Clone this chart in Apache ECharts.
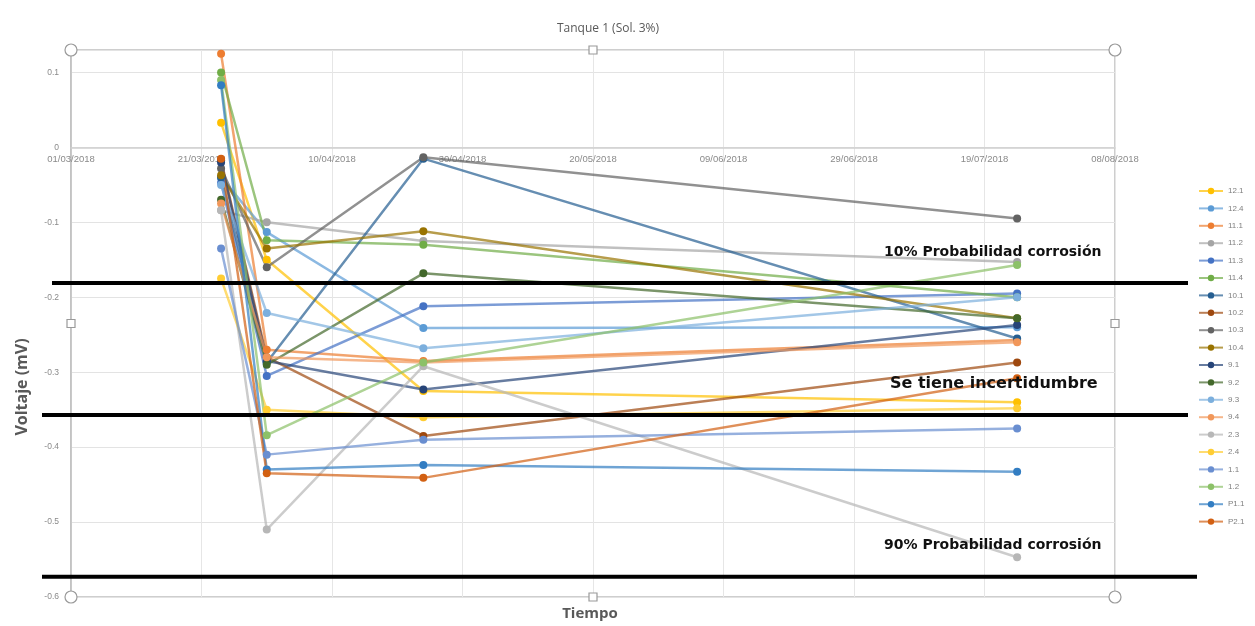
<!DOCTYPE html>
<html>
<head>
<meta charset="utf-8">
<script src="https://cdn.jsdelivr.net/npm/echarts@6/dist/echarts.min.js"></script>
<style>
  html, body { margin: 0; padding: 0; background: #ffffff; }
  #chart { width: 1255px; height: 626px; }
</style>
</head>
<body>
<div id="chart"></div>
<script>
// Measurement dates and axis range
const sampleDates = ['2018-03-24', '2018-03-31', '2018-04-24', '2018-07-24'];
const axisStartDate = '2018-03-01';
const axisEndDate = '2018-08-08';
const dayStep = 20;

// Potential readings (mV) per specimen, one value per measurement date
const s12_1 = [0.033, -0.150, -0.325, -0.340];
const s12_4 = [-0.040, -0.113, -0.241, -0.240];
const s11_1 = [0.125, -0.270, -0.285, -0.257];
const s11_2 = [-0.084, -0.100, -0.125, -0.153];
const s11_3 = [-0.047, -0.305, -0.212, -0.195];
const s11_4 = [0.100, -0.124, -0.130, -0.200];
const s10_1 = [-0.040, -0.287, -0.015, -0.255];
const s10_2 = [-0.017, -0.280, -0.385, -0.287];
const s10_3 = [-0.028, -0.160, -0.013, -0.095];
const s10_4 = [-0.037, -0.135, -0.112, -0.228];
const s9_1 = [-0.020, -0.285, -0.323, -0.237];
const s9_2 = [-0.070, -0.290, -0.168, -0.228];
const s9_3 = [-0.050, -0.221, -0.268, -0.200];
const s9_4 = [-0.075, -0.280, -0.287, -0.260];
const s2_3 = [-0.084, -0.510, -0.292, -0.547];
const s2_4 = [-0.175, -0.350, -0.360, -0.348];
const s1_1 = [-0.135, -0.410, -0.390, -0.375];
const s1_2 = [0.090, -0.384, -0.287, -0.157];
const sP1_1 = [0.083, -0.430, -0.424, -0.433];
const sP2_1 = [-0.015, -0.435, -0.441, -0.308];

const seriesNames = ['12.1', '12.4', '11.1', '11.2', '11.3', '11.4', '10.1', '10.2', '10.3', '10.4',
                     '9.1', '9.2', '9.3', '9.4', '2.3', '2.4', '1.1', '1.2', 'P1.1', 'P2.1'];
const seriesValues = [s12_1, s12_4, s11_1, s11_2, s11_3, s11_4, s10_1, s10_2, s10_3, s10_4,
                      s9_1, s9_2, s9_3, s9_4, s2_3, s2_4, s1_1, s1_2, sP1_1, sP2_1];
const seriesColors = ['#FFC000', '#5B9BD5', '#ED7D31', '#A5A5A5', '#4472C4', '#70AD47', '#255E91', '#9E480E',
                      '#636363', '#997300', '#264478', '#43682B', '#7CAFDD', '#F1975A', '#B7B7B7', '#FFCD33',
                      '#698ED0', '#8CC168', '#327DC2', '#D26012'];

// Corrosion probability thresholds (mV)
const thresholdValues = [-0.181, -0.357, -0.573];
const thresholdLabels = ['10% Probabilidad corrosión', 'Se tiene incertidumbre', '90% Probabilidad corrosión'];

const DAY = 86400000;
const t0 = Date.parse(axisStartDate + 'T00:00:00Z');
function dayOffset(d) { return Math.round((Date.parse(d + 'T00:00:00Z') - t0) / DAY); }
function pad(n) { return (n < 10 ? '0' : '') + n; }
function dayLabel(v) {
  const d = new Date(t0 + v * DAY);
  return pad(d.getUTCDate()) + '/' + pad(d.getUTCMonth() + 1) + '/' + d.getUTCFullYear();
}

const chart = echarts.init(document.getElementById('chart'), null, { renderer: 'canvas' });

const series = seriesNames.map((name, i) => ({
  name: name,
  type: 'line',
  symbol: 'circle',
  symbolSize: 8,
  data: sampleDates.map((d, k) => [dayOffset(d), seriesValues[i][k]]),
  lineStyle: { width: 2.5, color: seriesColors[i], opacity: 0.7 },
  itemStyle: { color: seriesColors[i] },
  emphasis: { disabled: true }
}));

const gridRect = { left: 71, right: 140, top: 50, bottom: 29 };

chart.setOption({
  animation: false,
  backgroundColor: '#ffffff',
  textStyle: { fontFamily: 'Liberation Sans, sans-serif' },
  title: {
    text: 'Tanque 1 (Sol. 3%)',
    left: 603, top: 18, textAlign: 'center',
    textStyle: { fontSize: 12, fontWeight: 'normal', color: '#595959', fontFamily: 'Open Sans, sans-serif' }
  },
  legend: {
    orient: 'vertical',
    left: 1193, top: 181,
    itemWidth: 24, itemHeight: 8, itemGap: 7.4,
    textStyle: { fontSize: 8, color: '#7f7f7f', lineHeight: 10 },
    data: seriesNames
  },
  grid: {
    left: gridRect.left, right: gridRect.right, top: gridRect.top, bottom: gridRect.bottom,
    show: true, borderColor: '#BFBFBF', borderWidth: 1.5
  },
  xAxis: {
    type: 'value',
    position: 'bottom',
    min: 0,
    max: dayOffset(axisEndDate),
    interval: dayStep,
    axisLine: { onZero: false, lineStyle: { color: '#D0D0D0', width: 1.5 } },
    axisTick: { show: false },
    axisLabel: { formatter: dayLabel, fontSize: 9.5, color: '#8a8a8a', margin: 7 },
    splitLine: { show: true, lineStyle: { color: '#E6E6E6' } }
  },
  yAxis: {
    type: 'value',
    min: -0.6,
    max: 0.13,
    interval: 0.1,
    axisLine: { show: true, onZero: false, lineStyle: { color: '#BFBFBF', width: 1.5 } },
    axisTick: { show: false },
    axisLabel: {
      showMaxLabel: false,
      fontSize: 8.5, color: '#8a8a8a', margin: 12,
      formatter: v => String(Math.round(v * 10) / 10)
    },
    splitLine: { show: true, lineStyle: { color: '#E3E3E3' } }
  },
  series: series
});

// Move the date axis (line and labels) up to the zero level of the voltage axis
const yZero = chart.convertToPixel({ yAxisIndex: 0 }, 0);
const yBottom = 626 - gridRect.bottom;
chart.setOption({ xAxis: { offset: -(yBottom - yZero) } });

// Threshold bars, their captions, axis titles and the plot-area frame handles
const graphics = [];
thresholdValues.forEach((v, i) => {
  const y = chart.convertToPixel({ gridIndex: 0 }, [0, v])[1];
  const x1 = i === 0 ? 52 : 42;
  const x2 = i === 2 ? 1197 : 1188;
  graphics.push({
    type: 'line', z: 100,
    shape: { x1: x1, y1: y, x2: x2, y2: y },
    style: { stroke: '#000000', lineWidth: 4 }
  });
  graphics.push({
    type: 'text', z: 100,
    x: i === 1 ? 890 : 884, y: y - 31,
    style: {
      text: thresholdLabels[i],
      fill: '#111111',
      font: 'bold ' + (i === 1 ? 16 : 14) + 'px "DejaVu Sans", sans-serif',
      align: 'left', verticalAlign: 'middle'
    }
  });
});

graphics.push({
  type: 'text', z: 100, x: 22, y: 387, rotation: Math.PI / 2,
  style: { text: 'Voltaje (mV)', fill: '#595959', font: 'bold 16px "Open Sans", sans-serif',
           align: 'center', verticalAlign: 'middle' }
});
graphics.push({
  type: 'text', z: 100, x: 590, y: 614,
  style: { text: 'Tiempo', fill: '#595959', font: 'bold 15px "Open Sans", sans-serif',
           align: 'center', verticalAlign: 'middle' }
});

const gl = gridRect.left, gt = gridRect.top;
const gr = 1255 - gridRect.right, gb = 626 - gridRect.bottom;
const gm = (gl + gr) / 2, gv = (gt + gb) / 2;
[[gl, gt], [gr, gt], [gl, gb], [gr, gb]].forEach(p => graphics.push({
  type: 'circle', z: 90, shape: { cx: p[0], cy: p[1], r: 6 },
  style: { fill: '#ffffff', stroke: '#9a9a9a', lineWidth: 1.2 }
}));
[[gm, gt], [gm, gb], [gl, gv], [gr, gv]].forEach(p => graphics.push({
  type: 'rect', z: 90, shape: { x: p[0] - 4, y: p[1] - 4, width: 8, height: 8 },
  style: { fill: '#ffffff', stroke: '#9a9a9a', lineWidth: 1.2 }
}));

chart.setOption({ graphic: graphics });
</script>
</body>
</html>
